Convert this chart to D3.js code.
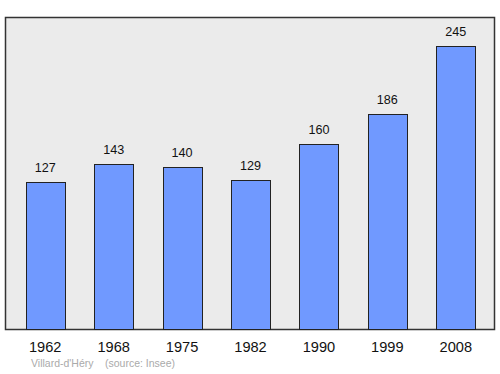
<!DOCTYPE html>
<html lang="fr">
<head>
  <meta charset="UTF-8">
  <title>Villard-d'Héry population</title>
  <script src="https://cdn.jsdelivr.net/npm/d3@7/dist/d3.min.js"></script>
  <style>
    body { margin: 0; font-family: "Liberation Sans", Arial, sans-serif; }
    .year { font-size: 14.6px; fill: #111; text-anchor: middle; }
    .value { font-size: 12.6px; fill: #111; text-anchor: middle; }
    .credit { font-size: 10.5px; fill: #aaa; }
  </style>
</head>
<body>
  <script>
    const years = ["1962", "1968", "1975", "1982", "1990", "1999", "2008"];
    const population = [127, 143, 140, 129, 160, 186, 245];

    const W = 500, H = 374;
    const frame = {left: 5.5, top: 17.5, right: 494.5, bottom: 329.5};

    const svg = d3.select("body").append("svg")
      .attr("width", W)
      .attr("height", H);

    svg.append("rect")
      .attr("x", frame.left)
      .attr("y", frame.top)
      .attr("width", frame.right - frame.left)
      .attr("height", frame.bottom - frame.top)
      .attr("fill", "#ebebeb")
      .attr("stroke", "#333")
      .attr("stroke-width", 1.5);

    const x = d3.scaleBand()
      .domain(years)
      .range([11, 490])
      .paddingInner(0.43)
      .paddingOuter(0.215);

    const y = d3.scaleLinear()
      .domain([0, 245])
      .range([frame.bottom, 45.5]);

    const data = years.map((yr, i) => ({year: yr, value: population[i]}));

    svg.append("g").attr("id", "bars")
      .selectAll("rect")
      .data(data)
      .enter().append("rect")
      .attr("x", d => Math.round(x(d.year)) + 0.5)
      .attr("y", d => Math.round(y(d.value)) + 0.5)
      .attr("width", Math.round(x.bandwidth()))
      .attr("height", d => frame.bottom - Math.round(y(d.value)) - 0.5)
      .attr("fill", "#7099ff")
      .attr("stroke", "#222")
      .attr("stroke-width", 1);

    svg.append("g").attr("id", "values")
      .selectAll("text")
      .data(data)
      .enter().append("text")
      .attr("class", "value")
      .attr("x", d => x(d.year) + x.bandwidth() / 2)
      .attr("y", d => y(d.value) - 10)
      .text(d => d.value);

    svg.append("g").attr("id", "years")
      .selectAll("text")
      .data(data)
      .enter().append("text")
      .attr("class", "year")
      .attr("x", d => x(d.year) + x.bandwidth() / 2)
      .attr("y", 352)
      .text(d => d.year);

    svg.append("text")
      .attr("class", "credit")
      .attr("x", 31)
      .attr("y", 367)
      .text("Villard-d'Héry");

    svg.append("text")
      .attr("class", "credit")
      .attr("x", 105)
      .attr("y", 367)
      .text("(source: Insee)");
  </script>
</body>
</html>
